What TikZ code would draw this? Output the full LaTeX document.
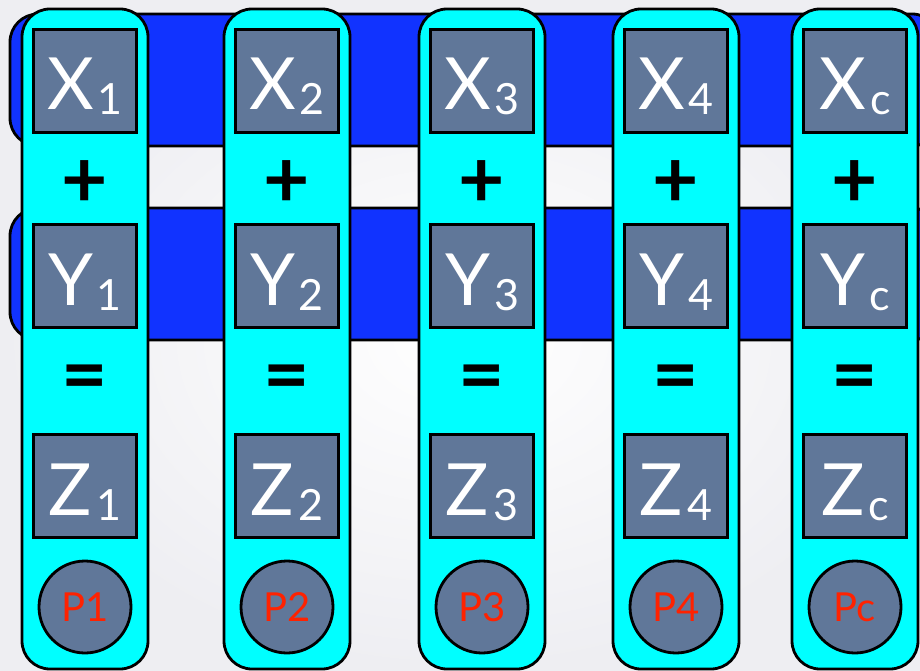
\documentclass[tikz,border=0pt]{standalone}
\usepackage{fontspec}
\setmainfont{Lato}
\definecolor{barblue}{RGB}{17,51,255}
\definecolor{colcyan}{RGB}{0,255,255}
\definecolor{slate}{RGB}{96,119,153}
\definecolor{pred}{RGB}{255,34,0}
\definecolor{bgout}{RGB}{238,238,242}
\newcommand{\lbl}[2]{\fontsize{72}{72}\selectfont #1\hspace{4pt}\raisebox{-5pt}{\fontsize{43}{43}\selectfont #2}}
\begin{document}
\begin{tikzpicture}[x=1pt,y=-1pt,
  bgbar/.style={draw=black,line width=2.8pt,fill=barblue,rounded corners=28pt,minimum width=930pt,minimum height=132pt,inner sep=0pt},
  column/.style={draw=black,line width=2.8pt,fill=colcyan,rounded corners=28pt,minimum width=126pt,minimum height=660pt,inner sep=0pt},
  cell/.style={draw=black,line width=2.8pt,fill=slate,minimum width=103pt,minimum height=103pt,inner sep=0pt},
  celltext/.style={text=white,anchor=base,inner sep=0pt},
  proc/.style={circle,draw=black,line width=2.8pt,fill=slate,minimum size=92pt,inner sep=0pt,text=pred,font=\fontsize{40}{40}\selectfont},
  op/.style={text=black,inner sep=0pt,anchor=base,font=\bfseries\fontsize{80}{80}\selectfont}
]
\useasboundingbox (0,0) rectangle (920,671);
\clip (0,0) rectangle (920,671);
\shade[inner color=white,outer color=bgout] (0,0) rectangle (920,671);
\node[bgbar] (barx) at (475,80) {};
\node[bgbar] (bary) at (475,274) {};
\foreach \i/\cx/\s/\p in {1/85/1/P1,2/287/2/P2,3/482/3/P3,4/676/4/P4,5/855/c/Pc}{
  \node[column] (col\i) at (\cx,339) {};
  \node[cell] (x\i) at (\cx,81) {};
  \node[celltext] (xt\i) at (\cx,110) {\lbl{X}{\s}};
  \node[op] (plus\i) at (\cx,207) {+};
  \node[cell] (y\i) at (\cx,276) {};
  \node[celltext] (yt\i) at (\cx,305) {\lbl{Y}{\s}};
  \node[op] (eq\i) at (\cx,402) {=};
  \node[cell] (z\i) at (\cx,486) {};
  \node[celltext] (zt\i) at (\cx,515) {\lbl{Z}{\s}};
  \node[proc] (p\i) at (\cx,607) {\p};
}
\end{tikzpicture}
\end{document}
